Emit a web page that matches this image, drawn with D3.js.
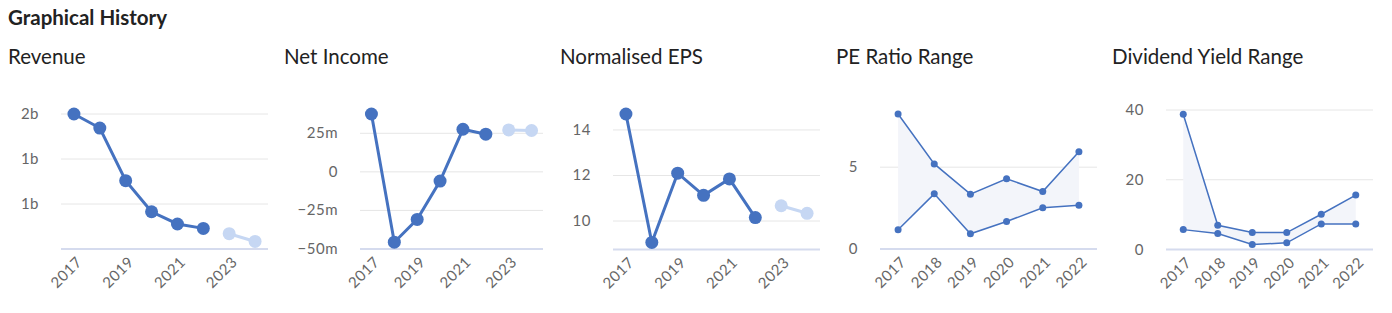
<!DOCTYPE html>
<html>
<head>
<meta charset="utf-8">
<script src="https://cdn.jsdelivr.net/npm/d3@7"></script>
<style>
  body { margin: 0; background: #fff; font-family: Lato, "Open Sans", sans-serif; }
  svg text { font-family: Lato, "Open Sans", sans-serif; }
</style>
</head>
<body>
<svg id="viz" width="1392" height="313"></svg>
<script>
// data
var years = ["2017", "2018", "2019", "2020", "2021", "2022", "2023", "2024"];
var rangeYears = ["2017", "2018", "2019", "2020", "2021", "2022"];

var revenue = [1.5, 1.344, 0.759, 0.414, 0.278, 0.229];      // billions
var revenueForecast = [0.17, 0.084];
var netIncome = [37.5, -45.6, -30.8, -6.0, 27.6, 24.4];       // millions
var netIncomeForecast = [27.2, 26.8];
var eps = [14.7, 9.06, 12.1, 11.13, 11.85, 10.15];
var epsForecast = [10.67, 10.34];

var peHigh = [8.25, 5.2, 3.35, 4.29, 3.51, 5.95];
var peLow = [1.18, 3.37, 0.93, 1.68, 2.52, 2.68];
var dyHigh = [38.8, 6.95, 4.86, 4.86, 10.1, 15.6];
var dyLow = [5.7, 4.57, 1.43, 1.9, 7.33, 7.33];

var revenueTicks = [0.5, 1, 1.5];
var netIncomeTicks = [-50, -25, 0, 25];
var epsTicks = [10, 12, 14];
var peTicks = [0, 5];
var dyTicks = [0, 20, 40];

var dark = "#4572c0",
	light = "#c6d7f3",
	gridColour = "#e6e6e6",
	axisColour = "#d5dbee",
	fillColour = "#f3f5fa",
	labelColour = "#666";

var svg = d3.select("#viz");

svg.append("text")
	.attr("x", 8).attr("y", 25)
	.attr("font-size", 20.5).attr("font-weight", 700)
	.attr("fill", "#222")
	.text("Graphical History");

// one panel per metric

function panel(opt)
{
	var g = svg.append("g");

	g.append("text")
		.attr("x", opt.left).attr("y", 64)
		.attr("font-size", 20.5)
		.attr("fill", "#222")
		.text(opt.title);

	var x = d3.scaleBand()
		.domain(opt.cats)
		.range([opt.x0, opt.x1]);

	var y = d3.scaleLinear()
		.domain(opt.domain)
		.range([opt.bottom, opt.top]);

	var cx = d => x(d) + x.bandwidth() / 2;

	// gridlines + y labels
	g.selectAll(".grid")
		.data(opt.ticks.filter(t => y(t) < opt.bottom - 1))
		.enter().append("line")
		.attr("x1", opt.x0).attr("x2", opt.x1)
		.attr("y1", d => y(d)).attr("y2", d => y(d))
		.attr("stroke", gridColour).attr("stroke-width", 1);

	g.selectAll(".ylab")
		.data(opt.ticks)
		.enter().append("text")
		.attr("x", opt.labelX)
		.attr("y", d => y(d) + 5)
		.attr("text-anchor", "end")
		.attr("font-size", 15)
		.attr("letter-spacing", 0.5)
		.attr("fill", labelColour)
		.text(opt.fmt);

	g.append("line")
		.attr("x1", opt.x0).attr("x2", opt.x1)
		.attr("y1", opt.bottom).attr("y2", opt.bottom)
		.attr("stroke", axisColour).attr("stroke-width", 2);

	// x labels, rotated
	g.selectAll(".xlab")
		.data(opt.xLabels)
		.enter().append("text")
		.attr("transform", d => "translate(" + (cx(d) + 9) + "," + (opt.bottom + 14) + ") rotate(-45)")
		.attr("text-anchor", "end")
		.attr("font-size", 15)
		.attr("letter-spacing", 0.5)
		.attr("fill", labelColour)
		.text(d => d);

	var line = d3.line()
		.x(d => cx(d.c))
		.y(d => y(d.v));

	if (opt.high) {
		var hi = opt.high.map((v, i) => ({c: opt.cats[i], v: v}));
		var lo = opt.low.map((v, i) => ({c: opt.cats[i], v: v}));

		var area = d3.area()
			.x((d, i) => cx(opt.cats[i]))
			.y0((d, i) => y(opt.low[i]))
			.y1((d, i) => y(opt.high[i]));

		g.append("path")
			.attr("d", area(opt.high))
			.attr("fill", fillColour);

		[hi, lo].forEach(s => {
			g.append("path")
				.attr("d", line(s))
				.attr("fill", "none")
				.attr("stroke", dark).attr("stroke-width", 1.5);
			g.selectAll(null)
				.data(s)
				.enter().append("circle")
				.attr("cx", d => cx(d.c)).attr("cy", d => y(d.v))
				.attr("r", 3.5)
				.attr("fill", dark);
		});
		return;
	}

	var hist = opt.values.map((v, i) => ({c: opt.cats[i], v: v}));
	var fc = opt.forecast.map((v, i) => ({c: opt.cats[opt.values.length + i], v: v}));

	[[hist, dark], [fc, light]].forEach(p => {
		g.append("path")
			.attr("d", line(p[0]))
			.attr("fill", "none")
			.attr("stroke", p[1]).attr("stroke-width", 3);
		g.selectAll(null)
			.data(p[0])
			.enter().append("circle")
			.attr("cx", d => cx(d.c)).attr("cy", d => y(d.v))
			.attr("r", 6.5)
			.attr("fill", p[1]);
	});
}

panel({
	title: "Revenue", left: 8,
	cats: years, xLabels: ["2017", "2019", "2021", "2023"],
	x0: 61, x1: 268, labelX: 39,
	domain: [0, 1.5], bottom: 249, top: 114,
	ticks: revenueTicks, fmt: d => Math.round(d) + "b",
	values: revenue, forecast: revenueForecast
});

panel({
	title: "Net Income", left: 284,
	cats: years, xLabels: ["2017", "2019", "2021", "2023"],
	x0: 360, x1: 543, labelX: 338,
	domain: [-50, 37.5], bottom: 249, top: 114,
	ticks: netIncomeTicks, fmt: d => d == 0 ? "0" : (d < 0 ? "\u2212" + Math.abs(d) : d) + "m",
	values: netIncome, forecast: netIncomeForecast
});

panel({
	title: "Normalised EPS", left: 560,
	cats: years, xLabels: ["2017", "2019", "2021", "2023"],
	x0: 613, x1: 820, labelX: 591,
	domain: [8.75, 14.7], bottom: 249.5, top: 114,
	ticks: epsTicks, fmt: d => d,
	values: eps, forecast: epsForecast
});

panel({
	title: "PE Ratio Range", left: 836,
	cats: rangeYears, xLabels: rangeYears,
	x0: 880, x1: 1097, labelX: 858,
	domain: [0, 8.25], bottom: 249, top: 114,
	ticks: peTicks, fmt: d => d,
	high: peHigh, low: peLow
});

panel({
	title: "Dividend Yield Range", left: 1112,
	cats: rangeYears, xLabels: rangeYears,
	x0: 1166, x1: 1373, labelX: 1144,
	domain: [0, 40], bottom: 249.5, top: 110,
	ticks: dyTicks, fmt: d => d,
	high: dyHigh, low: dyLow
});
</script>
</body>
</html>
